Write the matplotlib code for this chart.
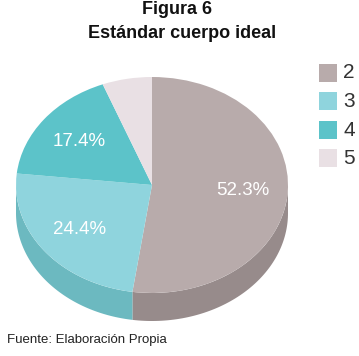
import matplotlib.pyplot as plt
import numpy as np
from matplotlib import font_manager
from matplotlib.patches import Polygon, Rectangle

plt.rcParams["font.family"] = ["Liberation Sans", "DejaVu Sans"]

categories = ["2", "3", "4", "5"]
values = [52.3, 24.4, 17.4, 5.9]
top_colors = ["#b8abab", "#8fd4dd", "#5cc3c9", "#e9e0e4"]
side_colors = ["#978b8b", "#6cb9c0", "#4eabb0", "#c9c0c4"]

installed = {f.name for f in font_manager.fontManager.ttflist}
narrow = "Liberation Sans Narrow" if "Liberation Sans Narrow" in installed else "Liberation Sans"

W, H = 359, 356
fig = plt.figure(figsize=(W / 100, H / 100), dpi=100)

# pie axes: unit circle mapped onto the ellipse of the top face (pixel box)
left, right, top, bottom = 16, 288, 77, 293
ax = fig.add_axes([left / W, 1 - bottom / H, (right - left) / W, (bottom - top) / H])

wedges, texts, autotexts = ax.pie(
    values, colors=top_colors, startangle=90, counterclock=False,
    autopct=lambda p: f"{p:.1f}%" if p > 10 else "", pctdistance=0.67,
    wedgeprops=dict(linewidth=0, zorder=3),
    textprops=dict(color="white", fontsize=13.5),
)
for t in autotexts:
    t.set_zorder(5)
ax.set_aspect("auto")
ax.set_xlim(-1, 1)
ax.set_ylim(-1, 1)
ax.axis("off")

# side of the cylinder (front half only)
depth = 28 / ((bottom - top) / 2)
for w, c in zip(wedges, side_colors):
    a, b = w.theta1, w.theta2
    for shift in (-360, 0, 360):
        lo = max(a, 180 + shift)
        hi = min(b, 360 + shift)
        if hi <= lo:
            continue
        t = np.deg2rad(np.linspace(lo, hi, 80))
        xs, ys = np.cos(t), np.sin(t)
        pts = np.concatenate([np.c_[xs, ys], np.c_[xs[::-1], ys[::-1] - depth]])
        ax.add_patch(Polygon(pts, closed=True, facecolor=c, edgecolor="none",
                             zorder=2, clip_on=False))

# titles
fig.text(177 / W, 1 - 10 / H, "Figura 6", ha="center", va="center",
         fontsize=13, fontweight="bold", color="#111111")
fig.text(182 / W, 1 - 34 / H, "Estándar cuerpo ideal", ha="center", va="center",
         fontsize=13, fontweight="bold", color="#111111")

# legend
leg_y = [73, 101, 130, 158]
for lab, col, y in zip(categories, top_colors, leg_y):
    fig.patches.append(Rectangle((319 / W, 1 - (y + 9) / H), 18 / W, 18 / H,
                                 transform=fig.transFigure, facecolor=col,
                                 edgecolor="none"))
    fig.text(343 / W, 1 - y / H, lab, ha="left", va="center",
             fontsize=15, color="#333333")

fig.text(7 / W, 1 - 340 / H, "Fuente: Elaboración Propia", ha="left", va="center",
         fontsize=11.5 if narrow != "Liberation Sans" else 9.5,
         family=[narrow, "DejaVu Sans"], color="#222222")

fig.savefig("out.png", dpi=100)
